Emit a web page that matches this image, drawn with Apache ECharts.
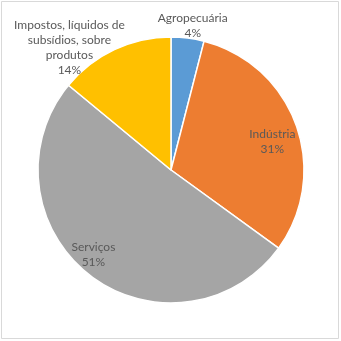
<!DOCTYPE html>
<html>
<head>
<meta charset="utf-8">
<script src="https://cdn.jsdelivr.net/npm/echarts@6/dist/echarts.min.js"></script>
<style>
  html, body { margin: 0; padding: 0; background: #fff; }
  #chart { width: 341px; height: 341px; }
</style>
</head>
<body>
<div id="chart"></div>
<script>
// Composição do PIB por setor (%)
const sectors = ['Agropecuária', 'Indústria', 'Serviços', 'Impostos, líquidos de\nsubsídios, sobre\nprodutos'];
const shares = [4, 31, 51, 14];
const colors = ['#5B9BD5', '#ED7D31', '#A5A5A5', '#FFC000'];
// label nudges away from the default inside position
const labelOffsets = [[13, -75], [36, -5], [-35, 30], [-72, -59]];

const chart = echarts.init(document.getElementById('chart'), null, { renderer: 'canvas' });

chart.setOption({
  animation: false,
  backgroundColor: '#ffffff',
  graphic: [{
    type: 'rect',
    shape: { x: 1.5, y: 1.5, width: 337, height: 337 },
    style: { fill: 'none', stroke: '#d9d9d9', lineWidth: 1 },
    silent: true
  }],
  series: [{
    type: 'pie',
    center: [171, 170],
    radius: [0, 133],
    startAngle: 90,
    clockwise: true,
    avoidLabelOverlap: false,
    itemStyle: { borderColor: '#ffffff', borderWidth: 1.5 },
    label: {
      show: true,
      position: 'inside',
      formatter: '{b}\n{c}%',
      color: '#595959',
      fontFamily: 'Lato',
      fontSize: 12,
      lineHeight: 15,
      align: 'center'
    },
    labelLine: { show: false },
    emphasis: { disabled: true },
    data: sectors.map((name, i) => ({
      name: name,
      value: shares[i],
      itemStyle: { color: colors[i] },
      label: { offset: labelOffsets[i] }
    }))
  }]
});
</script>
</body>
</html>
